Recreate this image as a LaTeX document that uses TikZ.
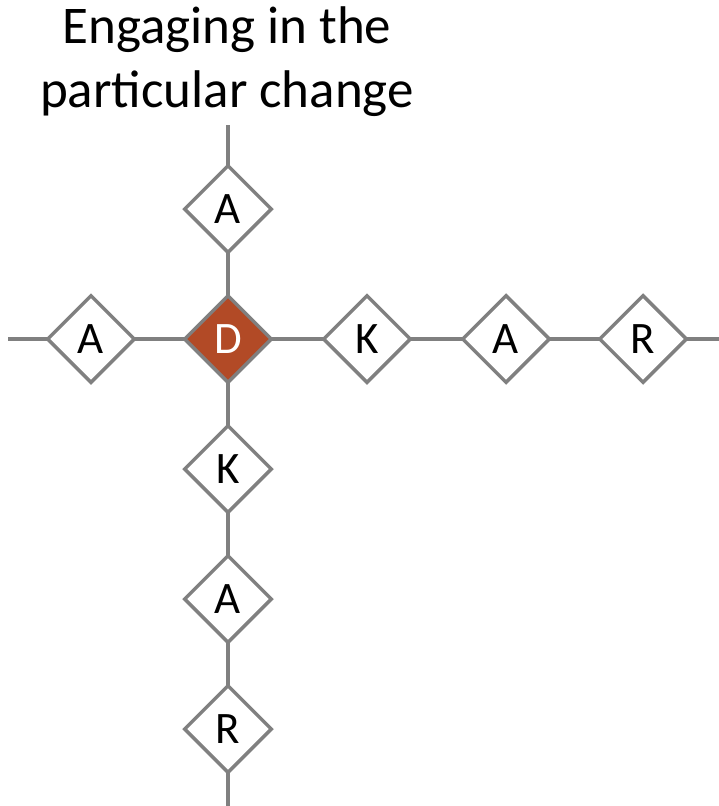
\documentclass[tikz,border=0pt]{standalone}
\usepackage{fontspec}
\setmainfont{Carlito}
\usetikzlibrary{shapes.geometric,backgrounds}
\definecolor{linegray}{RGB}{128,128,128}
\definecolor{dfill}{RGB}{178,74,38}
\begin{document}
\begin{tikzpicture}[x=1pt,y=-1pt,
  conn/.style={draw=linegray,line width=3.5pt},
  dia/.style={diamond,draw=linegray,line width=3.5pt,fill=white,minimum size=88pt,inner sep=0pt,
    font=\fontsize{45}{50}\selectfont,text=black},
  dcore/.style={dia,fill=dfill,text=white},
  title/.style={align=center,font=\fontsize{53}{64}\selectfont,text=black}]
\useasboundingbox (0,0) rectangle (719,806);
\node[title] (t) at (227,62) {Engaging in the\\particular change};
\coordinate (vtop) at (228,125);
\coordinate (vbot) at (228,806);
\coordinate (hl) at (8,339);
\coordinate (hr) at (719,339);
\node[dia] (a1) at (228,209) {A};
\node[dcore] (d) at (228,339) {D};
\node[dia] (k1) at (228,469) {K};
\node[dia] (a2) at (228,599) {A};
\node[dia] (r1) at (228,729) {R};
\node[dia] (a0) at (91,339) {A};
\node[dia] (k2) at (367,339) {K};
\node[dia] (a3) at (506,339) {A};
\node[dia] (r2) at (643,339) {R};
\begin{pgfonlayer}{background}
\draw[conn] (vtop) -- (a1.center);
\draw[conn] (a1.center) -- (d.center);
\draw[conn] (d.center) -- (k1.center);
\draw[conn] (k1.center) -- (a2.center);
\draw[conn] (a2.center) -- (r1.center);
\draw[conn] (r1.center) -- (vbot);
\draw[conn] (hl) -- (a0.center);
\draw[conn] (a0.center) -- (d.center);
\draw[conn] (d.center) -- (k2.center);
\draw[conn] (k2.center) -- (a3.center);
\draw[conn] (a3.center) -- (r2.center);
\draw[conn] (r2.center) -- (hr);
\end{pgfonlayer}
\end{tikzpicture}
\end{document}
